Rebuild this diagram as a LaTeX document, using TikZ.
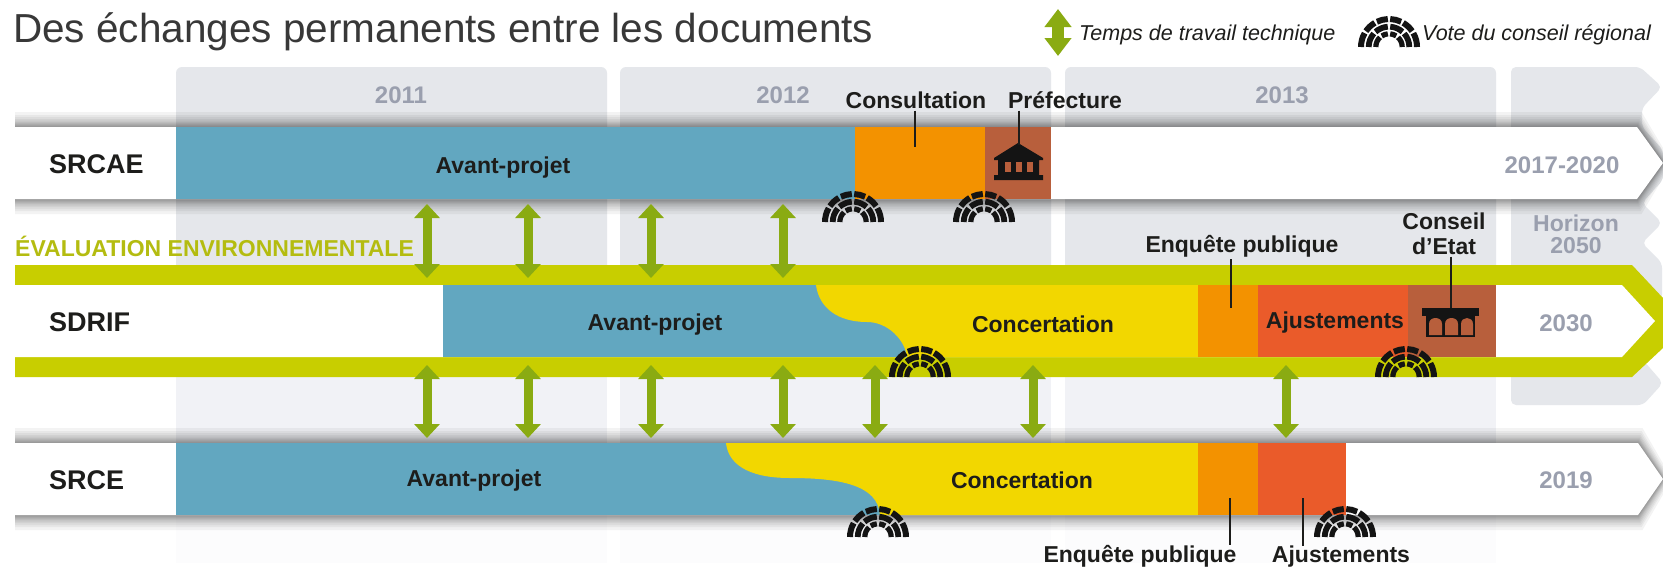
\documentclass[tikz,border=0pt]{standalone}
\usepackage{fontspec}
\setmainfont{Liberation Sans}
\usetikzlibrary{arrows.meta}
\definecolor{cblue}{HTML}{62A7C0}
\definecolor{corange}{HTML}{F39200}
\definecolor{cbrown}{HTML}{B85F3C}
\definecolor{cyellow}{HTML}{F2D700}
\definecolor{cred}{HTML}{EA5B2A}
\definecolor{colive}{HTML}{C8CE00}
\definecolor{colivetxt}{HTML}{B4BC10}
\definecolor{cgreen}{HTML}{8AAB12}
\definecolor{cgrey}{HTML}{9A9FAE}
\definecolor{cinktxt}{HTML}{1D1D1B}
\definecolor{colA}{HTML}{E5E7EB}
\definecolor{colB}{HTML}{F1F2F6}
\definecolor{colC}{HTML}{FCFCFD}
\newcommand{\fsz}[1]{\fontsize{#1}{#1}\selectfont}
\newcommand{\rowshadow}[4]{% top, bottom, mid, body end
  \foreach \i in {15,12,10,8,6.5,5,4,3,2,1}{
    \fill[black,opacity=0.048] (15,#1-\i) -- (#4+0.3*\i,#1-\i) -- (1663+0.6*\i,#3) -- (#4+0.3*\i,#2+\i) -- (15,#2+\i) -- cycle;
  }
}
\newcommand{\hemiring}[4]{% radius, width, half gap in degrees, gap angles
  \foreach \a/\b in {#4}{
    \pgfmathsetmacro{\sa}{\a==0?\a:\a+#3}
    \pgfmathsetmacro{\ea}{\b==180?\b:\b-#3}
    \draw[line width=#2pt] (\sa:#1) arc[start angle=\sa,end angle=\ea,radius=#1pt];
  }
}
\tikzset{
  lab/.style={inner sep=0pt,text=cinktxt,font=\bfseries\fsz{23}},
  rowname/.style={inner sep=0pt,anchor=west,text=cinktxt,font=\bfseries\fsz{27}},
  yearlab/.style={inner sep=0pt,text=cgrey,font=\bfseries\fsz{24}},
  legendlab/.style={inner sep=0pt,anchor=west,text=cinktxt,font=\itshape\fsz{21.5}},
  leader/.style={draw=cinktxt,line width=1.2pt},
  exch/.style={draw=cgreen,line width=9pt,{Triangle[width=25pt,length=14pt]}-{Triangle[width=25pt,length=14pt]}},
  legendarrow/.style={draw=cgreen,line width=12pt,{Triangle[width=26pt,length=18pt]}-{Triangle[width=26pt,length=18pt]}},
  hemi/.pic={
    \begin{scope}[y=1pt,x=1pt,line cap=butt,draw=black!92]
      \hemiring{28}{6}{2.4}{0/32,32/62,62/90,90/118,118/148,148/180}
      \hemiring{20.3}{5.8}{3.4}{0/45,45/90,90/135,135/180}
      \hemiring{13.2}{5.2}{5}{0/52,52/90,90/128,128/180}
    \end{scope}
  }
}
\begin{document}
\begin{tikzpicture}[x=1pt,y=-1pt]
\useasboundingbox (0,0) rectangle (1663,568);
\fill[white] (0,0) rectangle (1663,568);

% year columns
\foreach \l/\r in {176/607,620/1051,1065/1496}{
  \fill[colC] (\l,500) rectangle (\r,563);
  \fill[colB] (\l,370) rectangle (\r,450);
  \fill[colA,rounded corners=6pt] (\l,67) rectangle (\r,290);
}
\fill[colA,rounded corners=5pt] (1511,67) -- (1640,67) -- (1662,87) -- (1642,108) -- (1642,127) -- (1663,150) -- (1663,180) -- (1642,203) -- (1662,223) -- (1642,243) -- (1662,263) -- (1662,300) -- (1511,300) -- cycle;
\fill[colA,rounded corners=5pt] (1511,360) -- (1643,360) -- (1663,383) -- (1643,405) -- (1511,405) -- cycle;

% SRCAE row
\rowshadow{127}{199}{163}{1637}
\fill[white] (15,127) -- (1637,127) -- (1663,163) -- (1637,199) -- (15,199) -- cycle;
\fill[cblue] (176,127) rectangle (855,199);
\fill[corange] (855,127) rectangle (985,199);
\fill[cbrown] (985,127) rectangle (1051,199);

% SRCE row
\rowshadow{443}{515}{479}{1638}
\fill[white] (15,443) -- (1638,443) -- (1663,479) -- (1638,515) -- (15,515) -- cycle;
\fill[cblue] (176,443) rectangle (880,515);
\fill[cyellow] (726,443) .. controls (728,462) and (745,478) .. (790,478) .. controls (840,478) and (878,485) .. (880,515) -- (1198,515) -- (1198,443) -- cycle;
\fill[corange] (1198,443) rectangle (1258,515);
\fill[cred] (1258,443) rectangle (1346,515);

% SDRIF row
\fill[colive] (15,265) -- (1632,265) -- (1663,298) -- (1663,348) -- (1632,377) -- (15,377) -- cycle;
\fill[white] (15,285) -- (1622,285) -- (1655,321) -- (1622,357) -- (15,357) -- cycle;
\fill[cblue] (443,285) rectangle (907,357);
\fill[cyellow] (816,285) .. controls (819,308) and (838,322) .. (867,322) .. controls (888,322) and (905,340) .. (907,357) -- (1198,357) -- (1198,285) -- cycle;
\fill[corange] (1198,285) rectangle (1258,357);
\fill[cred] (1258,285) rectangle (1408,357);
\fill[cbrown] (1408,285) rectangle (1496,357);

% exchange arrows
\foreach \n/\x in {a/427,b/528,c/651,d/783}{
  \coordinate (up\n) at (\x,204);
  \coordinate (um\n) at (\x,278);
  \draw[exch] (up\n) -- (um\n);
}
\foreach \n/\x in {a/427,b/528,c/651,d/783,e/875,f/1033,g/1286}{
  \coordinate (lo\n) at (\x,365);
  \coordinate (lm\n) at (\x,438);
  \draw[exch] (lo\n) -- (lm\n);
}

% vote icons
\pic (voteA) at (853,222) {hemi};
\pic (voteB) at (984,222) {hemi};
\pic (voteC) at (920,377) {hemi};
\pic (voteD) at (1406,377) {hemi};
\pic (voteE) at (878,537) {hemi};
\pic (voteF) at (1345,537) {hemi};
\pic (voteL) at (1389,47) {hemi};

% prefecture building
\fill[black!92] (1018,143) -- (1043,158) -- (1043,160) -- (1039,160) -- (1039,175) -- (1043,175) -- (1043,180) -- (994,180) -- (994,175) -- (998,175) -- (998,160) -- (994,160) -- (994,158) -- cycle;
\foreach \l/\r in {1005/1011,1016/1022,1027/1033}{
  \fill[cbrown] (\l,162) rectangle (\r,172);
}

% Conseil d'Etat building
\fill[black!92] (1422,308) rectangle (1479,316);
\fill[black!92] (1426,316) rectangle (1475,337);
\foreach \l/\r in {1429/1442,1445/1458,1461/1473}{
  \fill[cbrown] (\l,335) -- (\l,324) .. controls (\l,320) and (\l+3,318) .. (\l/2+\r/2,318) .. controls (\r-3,318) and (\r,320) .. (\r,324) -- (\r,335) -- cycle;
}

% row names
\node[rowname] (srcae) at (49,164) {SRCAE};
\node[rowname] (sdrif) at (49,322) {SDRIF};
\node[rowname] (srce) at (49,480) {SRCE};

% year labels
\node[yearlab] (y2011) at (401,95) {2011};
\node[yearlab] (y2012) at (783,95) {2012};
\node[yearlab] (y2013) at (1282,95) {2013};
\node[yearlab] (h1720) at (1562,165) {2017-2020};
\node[yearlab,font=\bfseries\fsz{23}] (hz) at (1576,223) {Horizon};
\node[yearlab,font=\bfseries\fsz{23}] (hzb) at (1576,246) {2050};
\node[yearlab] (h2030) at (1566,323) {2030};
\node[yearlab] (h2019) at (1566,480) {2019};

% phase labels
\node[lab] (apa) at (503,168) {Avant-projet};
\node[lab] (apb) at (655,325) {Avant-projet};
\node[lab] (apc) at (474,481) {Avant-projet};
\node[lab] (cca) at (1043,324) {Concertation};
\node[lab] (ccb) at (1022,480) {Concertation};
\node[lab] (aja) at (1335,323) {Ajustements};
\node[lab] (ajb) at (1341,557) {Ajustements};
\node[lab] (epa) at (1242,246) {Enquête publique};
\node[lab] (epb) at (1140,556) {Enquête publique};
\node[lab] (cons) at (916,100) {Consultation};
\node[lab] (pref) at (1065,100) {Préfecture};
\node[lab] (ce1) at (1444,221) {Conseil};
\node[lab] (ce2) at (1444,246) {d’Etat};
\node[inner sep=0pt,anchor=west,text=colivetxt,font=\bfseries\fsz{23}] (eval) at (15,246) {ÉVALUATION ENVIRONNEMENTALE};

% leaders
\coordinate (lcons) at (915,147);
\coordinate (lpref) at (1019,145);
\coordinate (lepa) at (1231,308);
\coordinate (lce) at (1451,308);
\coordinate (lepb) at (1230,498);
\coordinate (lajb) at (1303,498);
\draw[leader] (lcons |- cons.south) ++(0,2) -- (lcons);
\draw[leader] (lpref |- pref.south) ++(0,2) -- (lpref);
\draw[leader] (lepa |- epa.south) ++(0,2) -- (lepa);
\draw[leader] (lce |- ce2.south) ++(0,2) -- (lce);
\draw[leader] (lepb) -- (lepb |- epb.north);
\draw[leader] (lajb) -- (lajb |- ajb.north);

% title and legend
\node[inner sep=0pt,anchor=base west,text=black!78,font=\fsz{40.5}] (title) at (13,42) {Des échanges permanents entre les documents};
\coordinate (lgt) at (1058,9);
\coordinate (lgb) at (1058,56);
\draw[legendarrow] (lgt) -- (lgb);
\node[legendlab] (lg1) at (1079,35) {Temps de travail technique};
\node[legendlab] (lg2) at (1422,35) {Vote du conseil régional};
\end{tikzpicture}
\end{document}
